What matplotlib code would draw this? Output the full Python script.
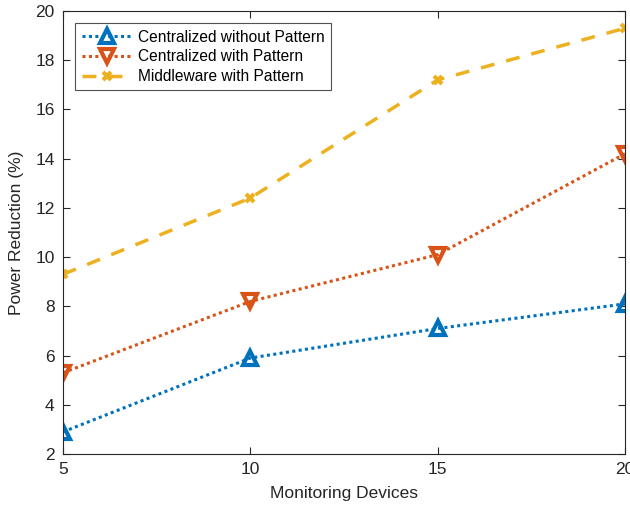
import matplotlib
matplotlib.use("Agg")
from matplotlib import pyplot as plt

plt.rcParams['font.family'] = ['Liberation Sans', 'DejaVu Sans']

# 数据
devices = [5, 10, 15, 20]
central_no_pattern = [2.9, 5.9, 7.1, 8.1]
central_pattern = [5.3, 8.2, 10.1, 14.2]
middleware_pattern = [9.3, 12.4, 17.2, 19.3]

fig = plt.figure(figsize=(6.3, 5.11), dpi=100)
ax = fig.add_axes([0.1, 0.1115, 0.892, 0.867])

ax.plot(devices, central_no_pattern, color='#0072BD', lw=2.2, dashes=(1, 1.1),
        marker='^', ms=9.5, mfc='none', mew=3, label='Centralized without Pattern')
ax.plot(devices, central_pattern, color='#D95319', lw=2.2, dashes=(1, 1.1),
        marker='v', ms=9.5, mfc='none', mew=3, label='Centralized with Pattern')
ax.plot(devices, middleware_pattern, color='#EDB120', lw=2.5, dashes=(4, 3.5),
        marker='x', ms=6, mew=3, label='Middleware with Pattern')

ax.set_xlim(5, 20)
ax.set_ylim(2, 20)
ax.set_xticks([5, 10, 15, 20])
ax.set_yticks(range(2, 21, 2))
ax.tick_params(direction='in', top=True, right=True, labelsize=12.5, colors='#262626',
               length=5, pad=6)
for s in ax.spines.values():
    s.set_color('#262626')
    s.set_linewidth(0.8)

ax.set_xlabel('Monitoring Devices', fontsize=12.5, color='#262626', labelpad=6)
ax.set_ylabel('Power Reduction (%)', fontsize=12.5, color='#262626', labelpad=8)

leg = ax.legend(loc='upper left', fontsize=11.2, fancybox=False, edgecolor='#262626',
                handlelength=3.3, borderaxespad=0.8, labelspacing=0.3,
                handletextpad=0.3, borderpad=0.4)
leg.get_frame().set_linewidth(0.8)

plt.savefig('out.png', dpi=100)
